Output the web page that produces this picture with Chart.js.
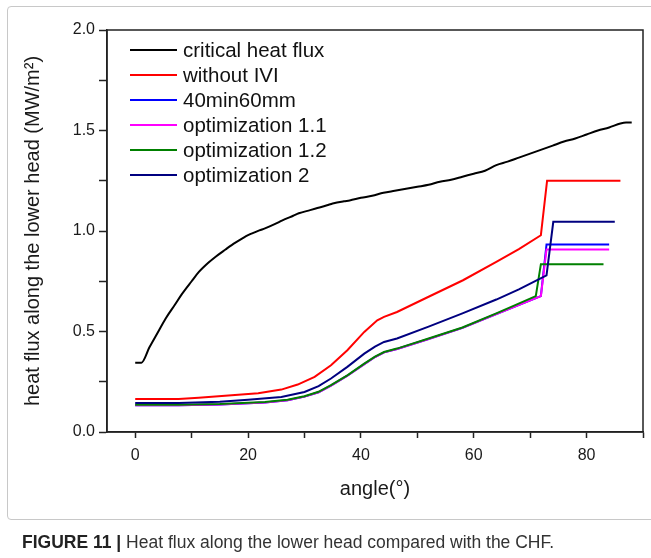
<!DOCTYPE html>
<html>
<head>
<meta charset="utf-8">
<script src="https://cdn.jsdelivr.net/npm/chart.js@4.4.1/dist/chart.umd.min.js"></script>
<style>
  html, body { margin: 0; padding: 0; background: #fff; }
  #wrap { position: relative; width: 651px; height: 558px; overflow: hidden; }
  #frame { position: absolute; left: 7px; top: 6px; width: 660px; height: 512px; border: 1px solid #c8c8c8; border-radius: 4px; }
  #chart { position: absolute; left: 0; top: 0; }
  #caption { position: absolute; left: 22px; top: 532px; font: 17.5px "Liberation Sans", Arial, sans-serif; color: #333; white-space: nowrap; }
  #caption b { color: #222; }
</style>
</head>
<body>
<div id="wrap">
  <div id="frame"></div>
  <canvas id="chart" width="651" height="558"></canvas>
  <div id="caption"><b>FIGURE 11 |</b> Heat flux along the lower head compared with the CHF.</div>
</div>
<script>
// values (angle in degrees, heat flux in MW/m2)
const chfAngle = [0, 1.1, 2.5, 4, 5.4, 7, 8.3, 10, 11.25, 13, 14.2, 16, 17.1, 19, 20, 22, 23, 25, 26, 28, 29, 31, 32, 34, 35, 37, 38, 40, 42, 44, 46, 48, 50, 52, 54, 56, 58, 60, 62, 64, 66, 68, 70, 72, 74, 76, 78, 80, 82, 84, 86, 87, 88];
const chfFlux = [0.345, 0.345, 0.42, 0.495, 0.565, 0.632, 0.687, 0.75, 0.795, 0.843, 0.871, 0.908, 0.93, 0.963, 0.979, 1.003, 1.013, 1.038, 1.052, 1.076, 1.088, 1.104, 1.112, 1.128, 1.137, 1.148, 1.152, 1.165, 1.175, 1.19, 1.2, 1.21, 1.22, 1.23, 1.245, 1.255, 1.27, 1.285, 1.3, 1.328, 1.345, 1.365, 1.385, 1.405, 1.425, 1.445, 1.46, 1.48, 1.5, 1.515, 1.535, 1.54, 1.54];

const noIviAngle = [0, 7.7, 11.25, 17.1, 21.8, 25.9, 28.8, 31.8, 34.7, 37.6, 40.6, 42.9, 44.1, 46.4, 52, 58.1, 64, 68, 71.9, 73, 86];
const noIviFlux = [0.164, 0.164, 0.171, 0.183, 0.193, 0.211, 0.236, 0.274, 0.332, 0.407, 0.498, 0.556, 0.573, 0.597, 0.673, 0.755, 0.846, 0.91, 0.979, 1.25, 1.25];

const base40Angle = [0, 7.7, 15, 23, 27, 30, 32.5, 34.7, 37.6, 40.6, 42.5, 44.1, 46.4, 52, 58, 64, 71.9, 72.9, 84];
const base40Flux = [0.133, 0.133, 0.137, 0.147, 0.158, 0.176, 0.198, 0.231, 0.28, 0.338, 0.373, 0.396, 0.413, 0.463, 0.518, 0.587, 0.676, 0.933, 0.933];

const opt11Angle = [0, 7.7, 15, 23, 27, 30, 32.5, 34.7, 37.6, 40.6, 42.5, 44.1, 46.4, 52, 58, 64, 71.9, 72.9, 84];
const opt11Flux = [0.133, 0.133, 0.137, 0.147, 0.158, 0.176, 0.198, 0.231, 0.28, 0.338, 0.373, 0.396, 0.413, 0.463, 0.518, 0.587, 0.676, 0.908, 0.908];

const opt12Angle = [0, 7.7, 15, 23, 27, 30, 32.5, 34.7, 37.6, 40.6, 42.5, 44.1, 46.4, 52, 58, 64, 71, 71.9, 83];
const opt12Flux = [0.135, 0.135, 0.139, 0.149, 0.16, 0.178, 0.2, 0.233, 0.282, 0.34, 0.375, 0.398, 0.415, 0.465, 0.52, 0.59, 0.676, 0.835, 0.835];

const opt2Angle = [0, 7.7, 15, 20, 25.9, 30, 32.5, 34.7, 37.6, 40.6, 42.5, 44.1, 46.4, 52, 58, 64, 68, 72.9, 74.1, 85];
const opt2Flux = [0.144, 0.144, 0.15, 0.161, 0.174, 0.199, 0.228, 0.266, 0.324, 0.39, 0.425, 0.448, 0.465, 0.524, 0.59, 0.659, 0.71, 0.779, 1.046, 1.046];

const seriesNames = ['critical heat flux', 'without IVI', '40min60mm', 'optimization 1.1', 'optimization 1.2', 'optimization 2'];
const seriesColors = ['#000000', '#ff0000', '#0000ff', '#ff00ff', '#008000', '#000080'];
const seriesAngles = [chfAngle, noIviAngle, base40Angle, opt11Angle, opt12Angle, opt2Angle];
const seriesFlux = [chfFlux, noIviFlux, base40Flux, opt11Flux, opt12Flux, opt2Flux];

const xTicks = [0, 10, 20, 30, 40, 50, 60, 70, 80, 90];
const yTicks = [0, 0.25, 0.5, 0.75, 1.0, 1.25, 1.5, 1.75, 2.0];

const fontFamily = "'Liberation Sans', Arial, sans-serif";
const axisColor = '#222222';

// only the smooth CHF curve is splined; the others keep their sharp knees
const datasets = seriesNames.map((name, i) => ({
  label: name,
  data: seriesAngles[i].map((a, k) => ({ x: a, y: seriesFlux[i][k] })),
  borderColor: seriesColors[i],
  backgroundColor: seriesColors[i],
  borderWidth: 2,
  pointRadius: 0,
  tension: 0,
  cubicInterpolationMode: i === 0 ? 'monotone' : 'default',
  fill: false,
  order: seriesNames.length - i
}));

const framePlugin = {
  id: 'frameAndLegend',
  afterDatasetsDraw(chart) {
    const { ctx, chartArea } = chart;
    ctx.save();
    ctx.strokeStyle = axisColor;
    ctx.lineWidth = 1.5;
    ctx.strokeRect(chartArea.left, chartArea.top, chartArea.right - chartArea.left, chartArea.bottom - chartArea.top);

    // legend inside the plot, top-left
    ctx.font = `20.5px ${fontFamily}`;
    ctx.textBaseline = 'middle';
    ctx.textAlign = 'left';
    seriesNames.forEach((name, i) => {
      const y = 50 + i * 25;
      ctx.strokeStyle = seriesColors[i];
      ctx.lineWidth = 2;
      ctx.beginPath();
      ctx.moveTo(130, y);
      ctx.lineTo(177, y);
      ctx.stroke();
      ctx.fillStyle = '#111';
      ctx.fillText(name, 183, y + 1);
    });
    ctx.restore();
  }
};

new Chart(document.getElementById('chart'), {
  type: 'line',
  data: { datasets },
  options: {
    responsive: false,
    animation: false,
    devicePixelRatio: 1,
    layout: { padding: { left: 0, top: 30, right: 4, bottom: 0 } },
    plugins: { legend: { display: false }, tooltip: { enabled: false } },
    scales: {
      x: {
        type: 'linear',
        min: -5,
        max: 90,
        afterBuildTicks(scale) { scale.ticks = xTicks.map((v) => ({ value: v })); },
        afterFit(scale) { scale.height = 126; },
        grid: { drawOnChartArea: false, drawTicks: true, tickLength: 6, tickColor: axisColor, tickWidth: 1.5 },
        border: { color: axisColor, width: 1.5 },
        ticks: {
          autoSkip: false,
          maxRotation: 0,
          padding: 8,
          color: '#1a1a1a',
          font: { family: fontFamily, size: 16 },
          callback: (v) => (v % 20 === 0 ? String(v) : '')
        },
        title: {
          display: true,
          text: 'angle(°)',
          color: '#1a1a1a',
          font: { family: fontFamily, size: 20 },
          padding: { top: 0, bottom: 57 }
        }
      },
      y: {
        type: 'linear',
        min: 0,
        max: 2,
        afterBuildTicks(scale) { scale.ticks = yTicks.map((v) => ({ value: v })); },
        afterFit(scale) { scale.width = 107; },
        grid: { drawOnChartArea: false, drawTicks: true, tickLength: 8, tickColor: axisColor, tickWidth: 1.5 },
        border: { color: axisColor, width: 1.5 },
        ticks: {
          autoSkip: false,
          padding: 4,
          color: '#1a1a1a',
          font: { family: fontFamily, size: 16 },
          callback: (v) => (Math.abs(v * 2 - Math.round(v * 2)) < 1e-9 ? v.toFixed(1) : '')
        },
        title: {
          display: true,
          text: 'heat flux along the lower head (MW/m²)',
          color: '#1a1a1a',
          font: { family: fontFamily, size: 20 },
          padding: { top: 21, bottom: 0 }
        }
      }
    }
  },
  plugins: [framePlugin]
});
</script>
</body>
</html>
